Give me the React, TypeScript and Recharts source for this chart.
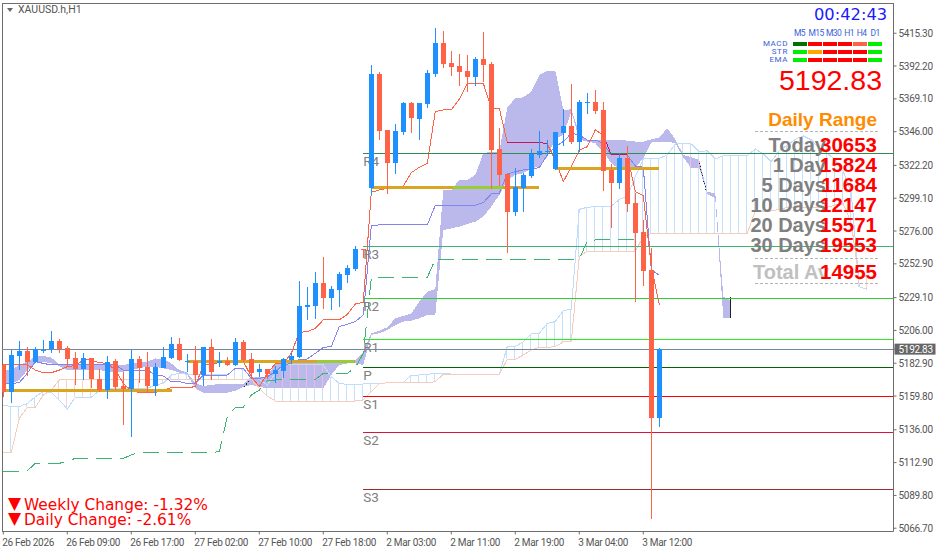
import { Area, Bar, Cell, ComposedChart, Line, ReferenceLine, XAxis, YAxis } from 'recharts'

// XAUUSD H1, one entry per candle
const opens = [5181.6, 5162.9, 5188.2, 5191.5, 5184.0, 5192.0, 5192.7, 5198.6, 5193.6, 5186.6, 5179.1, 5186.6, 5171.6, 5164.0, 5184.2, 5166.8, 5165.0, 5185.9, 5180.2, 5166.8, 5179.8, 5186.8, 5196.4, 5183.8, 5184.2, 5174.8, 5194.1, 5183.3, 5184.2, 5181.7, 5197.6, 5185.9, 5177.0, 5178.6, 5175.3, 5177.6, 5185.2, 5187.0, 5222.7, 5223.2, 5239.4, 5228.8, 5234.5, 5245.0, 5249.3, 5263.4, 5306.6, 5386.6, 5347.2, 5323.9, 5345.8, 5366.2, 5354.9, 5365.5, 5386.6, 5408.5, 5394.4, 5392.3, 5388.7, 5384.5, 5397.2, 5393.7, 5333.8, 5316.2, 5289.4, 5306.3, 5314.8, 5329.6, 5331.7, 5319.7, 5345.1, 5350.0, 5338.7, 5366.4, 5366.9, 5361.3, 5319.0, 5309.8, 5327.5, 5295.8, 5275.3, 5248.6, 5144.5]
const highs = [5181.6, 5192.2, 5198.6, 5194.1, 5194.1, 5199.3, 5205.6, 5200.0, 5195.0, 5190.8, 5189.9, 5186.6, 5178.6, 5188.0, 5185.6, 5176.9, 5192.7, 5188.0, 5190.6, 5182.8, 5194.1, 5201.1, 5200.7, 5189.4, 5195.0, 5194.1, 5200.0, 5190.6, 5187.0, 5200.4, 5199.3, 5189.9, 5182.1, 5178.6, 5180.9, 5186.3, 5190.3, 5240.8, 5236.6, 5247.2, 5257.7, 5237.3, 5247.2, 5252.1, 5265.5, 5263.4, 5393.0, 5388.0, 5347.2, 5351.4, 5367.2, 5367.2, 5366.2, 5389.5, 5419.0, 5416.9, 5402.8, 5400.7, 5400.0, 5398.6, 5416.2, 5395.1, 5348.6, 5316.2, 5320.4, 5316.9, 5333.8, 5346.5, 5340.1, 5346.0, 5362.0, 5379.6, 5368.3, 5373.2, 5375.4, 5366.9, 5323.2, 5330.3, 5335.9, 5302.8, 5283.8, 5264.1, 5193.6]
const lows = [5159.3, 5155.1, 5178.1, 5174.1, 5183.3, 5189.9, 5189.9, 5190.3, 5180.5, 5167.6, 5171.1, 5165.2, 5162.9, 5157.9, 5164.0, 5139.4, 5130.7, 5168.7, 5162.2, 5160.0, 5179.3, 5185.6, 5184.5, 5176.5, 5168.7, 5167.1, 5171.1, 5180.5, 5181.2, 5181.2, 5184.0, 5173.4, 5173.4, 5171.5, 5168.7, 5172.3, 5182.4, 5186.3, 5213.1, 5214.1, 5221.1, 5220.4, 5222.5, 5239.4, 5247.9, 5256.8, 5301.4, 5340.1, 5302.3, 5316.4, 5343.7, 5345.1, 5340.1, 5362.7, 5384.5, 5390.9, 5385.2, 5378.2, 5373.9, 5378.2, 5381.0, 5305.6, 5307.7, 5260.7, 5286.6, 5289.4, 5313.4, 5327.5, 5328.9, 5319.0, 5335.9, 5337.3, 5331.7, 5358.5, 5358.5, 5304.2, 5278.1, 5305.6, 5289.4, 5226.0, 5237.3, 5073.2, 5138.2]
const closes = [5162.9, 5188.7, 5191.5, 5184.0, 5192.7, 5192.2, 5198.6, 5192.7, 5185.9, 5179.1, 5186.6, 5171.6, 5164.0, 5183.8, 5165.9, 5165.0, 5185.9, 5179.8, 5166.8, 5180.2, 5187.3, 5196.4, 5185.2, 5184.2, 5174.6, 5194.1, 5176.7, 5184.2, 5181.9, 5197.6, 5184.9, 5176.0, 5178.6, 5175.3, 5178.1, 5185.9, 5188.0, 5223.2, 5223.9, 5239.4, 5229.1, 5235.2, 5245.8, 5250.0, 5263.4, 5262.4, 5386.6, 5346.7, 5323.9, 5346.5, 5366.2, 5355.6, 5366.2, 5387.3, 5408.5, 5393.7, 5391.6, 5388.0, 5384.5, 5397.2, 5393.0, 5333.1, 5315.5, 5289.4, 5307.0, 5315.5, 5330.3, 5332.4, 5332.4, 5346.0, 5350.0, 5338.7, 5366.9, 5366.9, 5360.6, 5318.3, 5309.8, 5327.5, 5295.1, 5274.6, 5247.9, 5144.5, 5192.83]

// ichimoku lines
const tenkan = [5181.7, 5181.7, 5181.7, 5181.7, 5178.1, 5176.2, 5176.2, 5178.1, 5180.5, 5181.2, 5185.2, 5185.2, 5183.3, 5182.8, 5178.1, 5168.7, 5163.6, 5162.2, 5162.2, 5162.2, 5164.0, 5165.7, 5165.7, 5165.7, 5166.4, 5181.7, 5182.4, 5183.3, 5184.0, 5184.2, 5184.2, 5173.4, 5166.4, 5175.8, 5182.4, 5182.8, 5189.9, 5204.7, 5205.1, 5207.5, 5213.4, 5213.4, 5213.4, 5217.3, 5224.6, 5225.8, 5303.3, 5304.9, 5306.1, 5307.3, 5307.7, 5317.1, 5320.9, 5323.7, 5360.1, 5361.3, 5361.3, 5368.8, 5380.1, 5380.1, 5380.1, 5362.4, 5362.4, 5338.5, 5338.5, 5338.5, 5338.5, 5338.5, 5337.3, 5326.0, 5310.8, 5321.4, 5333.1, 5335.4, 5347.2, 5343.7, 5329.6, 5329.6, 5329.6, 5303.7, 5300.9, 5250.9, 5224.2]
const kijun = [5168.7, 5168.7, 5169.2, 5175.8, 5184.0, 5182.8, 5181.7, 5181.7, 5181.7, 5181.7, 5181.7, 5181.7, 5181.7, 5181.7, 5181.7, 5178.1, 5178.1, 5178.1, 5178.1, 5174.6, 5173.9, 5169.9, 5169.9, 5168.7, 5168.7, 5174.6, 5174.6, 5174.6, 5174.6, 5179.3, 5179.3, 5172.3, 5172.3, 5173.4, 5177.0, 5181.7, 5182.8, 5185.4, 5185.9, 5189.9, 5194.1, 5194.6, 5208.7, 5210.3, 5212.2, 5216.9, 5279.8, 5280.3, 5280.3, 5280.3, 5280.3, 5280.3, 5280.3, 5280.3, 5294.1, 5294.1, 5294.1, 5294.1, 5294.1, 5294.1, 5296.0, 5302.1, 5302.6, 5316.2, 5317.8, 5319.0, 5319.7, 5320.7, 5329.6, 5335.4, 5339.0, 5344.8, 5343.7, 5340.1, 5340.1, 5337.8, 5329.6, 5329.6, 5329.6, 5321.8, 5320.9, 5248.6, 5245.0]
const chikou = [5106.7, 5106.7, 5106.7, 5107.2, 5112.4, 5112.4, 5112.4, 5112.4, 5114.0, 5115.9, 5115.9, 5115.9, 5115.9, 5115.9, 5115.9, 5115.9, 5118.3, 5120.1, 5120.1, 5120.1, 5120.1, 5120.1, 5120.1, 5120.1, 5120.1, 5120.1, 5120.1, 5120.6, 5145.3, 5151.8, 5151.8, 5160.5, 5164.0, 5170.6, 5171.1, 5171.1, 5171.1, 5171.6, 5171.6, 5171.6, 5175.8, 5175.8, 5175.8, 5175.8, 5179.8, 5189.9, 5242.7, 5243.4, 5243.4, 5243.4, 5243.4, 5243.4, 5243.4, 5243.4, 5256.1, 5256.1, 5256.1, 5256.1, 5256.1, 5256.1, 5256.1, 5256.1, 5256.1, 5256.1, 5256.1, 5256.1, 5256.1, 5256.1, 5256.1, 5256.1, 5256.1, 5256.1, 5256.1, 5269.2, 5269.7, 5269.7, 5269.7, 5269.7, 5269.7, 5269.7, 5269.7]
const spanA = [5153.5, 5152.3, 5152.3, 5154.6, 5159.3, 5162.9, 5162.2, 5157.0, 5150.7, 5158.9, 5158.9, 5158.9, 5163.6, 5165.2, 5165.2, 5165.2, 5165.2, 5165.2, 5165.2, 5167.6, 5168.7, 5174.6, 5175.8, 5175.1, 5175.1, 5175.1, 5175.1, 5175.1, 5174.6, 5179.3, 5178.6, 5173.4, 5171.6, 5167.6, 5175.8, 5181.7, 5181.7, 5181.7, 5181.7, 5181.7, 5181.7, 5173.4, 5168.7, 5168.0, 5168.0, 5168.3, 5168.3, 5168.3, 5169.2, 5169.2, 5169.2, 5174.6, 5174.6, 5175.1, 5175.8, 5175.8, 5175.3, 5175.3, 5175.3, 5175.1, 5175.1, 5175.1, 5175.1, 5194.6, 5194.6, 5198.1, 5203.5, 5204.0, 5211.0, 5212.2, 5219.9, 5220.9, 5291.3, 5292.7, 5293.2, 5293.6, 5293.6, 5298.3, 5300.2, 5314.3, 5326.8, 5326.8, 5327.2, 5329.6, 5337.3, 5337.8, 5337.3, 5331.9, 5332.6, 5326.8, 5328.9, 5329.3, 5329.3, 5329.3, 5333.8, 5330.3, 5324.9, 5332.6, 5336.6, 5340.6, 5343.0, 5340.2, 5334.3, 5330.8, 5326.1, 5317.9, 5302.6, 5236.8, 5235.0]
const spanB = [5120.1, 5120.1, 5144.1, 5151.8, 5151.8, 5160.5, 5164.0, 5171.1, 5171.6, 5171.6, 5171.6, 5171.6, 5171.6, 5171.6, 5171.6, 5171.6, 5171.6, 5171.6, 5171.6, 5171.6, 5171.6, 5171.6, 5171.6, 5171.6, 5171.6, 5171.6, 5171.6, 5171.6, 5171.6, 5171.6, 5171.6, 5171.6, 5165.2, 5159.8, 5156.3, 5156.3, 5156.3, 5156.3, 5156.3, 5156.3, 5156.3, 5156.3, 5156.3, 5156.3, 5156.3, 5157.0, 5162.9, 5168.3, 5169.2, 5169.2, 5169.2, 5169.2, 5169.2, 5169.2, 5169.9, 5175.1, 5175.1, 5175.1, 5175.1, 5175.1, 5175.1, 5175.1, 5175.1, 5185.7, 5185.7, 5188.7, 5192.2, 5194.1, 5194.1, 5194.6, 5197.9, 5198.1, 5258.0, 5261.9, 5261.9, 5261.9, 5261.9, 5261.9, 5261.9, 5261.9, 5272.0, 5274.4, 5274.4, 5274.4, 5274.4, 5274.4, 5274.4, 5274.4, 5274.4, 5274.4, 5274.4, 5274.4, 5274.4, 5274.4, 5290.1, 5290.1, 5290.1, 5291.3, 5292.7, 5292.7, 5292.7, 5292.7, 5292.7, 5292.7, 5294.4, 5295.1, 5281.4, 5241.5, 5245.1]

// filled higher timeframe cloud
const cloudTop = [5178.1, 5178.1, 5181.7, 5184.0, 5187.5, 5188.0, 5187.0, 5181.7, 5181.7, 5181.7, 5181.7, 5181.7, 5181.7, 5181.7, 5181.7, 5181.7, 5182.8, 5183.3, 5184.0, 5186.3, 5185.6, 5182.8, 5178.1, 5176.3, 5168.7, 5166.9, 5167.6, 5168.3, 5168.3, 5168.3, 5168.3, 5173.4, 5173.4, 5173.4, 5182.8, 5182.8, 5182.8, 5184.0, 5184.0, 5184.7, 5184.7, 5182.8, 5184.0, 5184.7, 5184.7, 5191.0, 5204.0, 5205.8, 5208.2, 5214.5, 5216.2, 5218.0, 5226.3, 5233.3, 5235.0, 5304.9, 5304.9, 5312.0, 5312.0, 5315.5, 5330.8, 5331.9, 5331.9, 5363.2, 5369.5, 5370.2, 5374.2, 5385.9, 5389.0, 5389.0, 5361.3, 5361.7, 5344.8, 5340.1, 5340.1, 5340.1, 5340.1, 5340.1, 5339.7, 5339.0, 5339.0, 5340.6, 5342.0, 5348.4, 5340.6, 5329.6, 5327.9, 5326.0, 5303.7, 5302.3, 5229.8, 5227.0]
const cloudBottom = [5168.7, 5168.7, 5171.1, 5178.1, 5184.0, 5184.0, 5182.8, 5180.9, 5178.1, 5178.1, 5178.1, 5178.1, 5178.1, 5177.0, 5177.0, 5177.0, 5178.6, 5179.3, 5180.5, 5180.5, 5179.3, 5178.1, 5176.3, 5174.6, 5165.2, 5162.2, 5161.7, 5161.7, 5162.2, 5163.6, 5166.4, 5167.6, 5166.4, 5165.2, 5165.2, 5165.2, 5165.2, 5165.2, 5165.2, 5165.2, 5165.2, 5174.6, 5181.7, 5182.8, 5182.8, 5181.7, 5202.8, 5204.0, 5206.3, 5209.8, 5212.2, 5212.9, 5214.5, 5216.9, 5216.9, 5276.7, 5277.9, 5279.1, 5281.0, 5282.6, 5286.1, 5293.2, 5301.4, 5312.0, 5315.5, 5316.7, 5320.2, 5321.4, 5328.4, 5341.3, 5343.7, 5360.3, 5340.6, 5339.0, 5337.8, 5331.9, 5323.7, 5319.5, 5319.0, 5320.9, 5327.2, 5338.3, 5339.0, 5339.0, 5337.8, 5327.9, 5320.2, 5320.2, 5302.1, 5299.0, 5214.5, 5214.5]

const xTickIndex = [0, 8, 16, 24, 32, 40, 48, 56, 64, 72, 80]
const xTickLabels = ['26 Feb 2026', '26 Feb 09:00', '26 Feb 17:00', '27 Feb 02:00', '27 Feb 10:00', '27 Feb 18:00', '2 Mar 03:00', '2 Mar 11:00', '2 Mar 19:00', '3 Mar 04:00', '3 Mar 12:00']
const lastPrice = 5192.83
const yTicks = [5415.3, 5392.2, 5369.1, 5346.0, 5322.2, 5299.1, 5276.0, 5252.9, 5229.1, 5206.0, 5182.9, 5159.8, 5136.0, 5112.9, 5089.8, 5066.7, lastPrice]

const pivots = [
  { name: 'R4', value: 5330.77, color: '#2e8b57' },
  { name: 'R3', value: 5265.26, color: '#3cb371' },
  { name: 'R2', value: 5228.63, color: '#32cd32' },
  { name: 'R1', value: 5199.75, color: '#22ee22' },
  { name: 'P', value: 5180.03, color: '#006400' },
  { name: 'S1', value: 5159.6, color: '#ff0000' },
  { name: 'S2', value: 5134.24, color: '#dc143c' },
  { name: 'S3', value: 5094.1, color: '#a52a2a' },
]
const PIVOT_START = 45

// thick range segments [from, to, price]
const goldSegments = [[0, 21.1, 5163.8], [23, 44, 5184.2], [46, 67, 5306.8], [69, 82, 5320.2]]
const limeSegments = [[39.2, 43.8, 5184.2], [56.2, 62.5, 5306.8], [77.6, 78.2, 5320.2]]

// small dark marks on the cloud edge [x1, price1, x2, price2]
const darkMarks = [[87, 5323.9, 87.9, 5303.5], [30.1, 5166.4, 30.8, 5171.1], [90.95, 5229.8, 90.95, 5214.5]]

// multi timeframe panel
const tfLabels = ['M5', 'M15', 'M30', 'H1', 'H4', 'D1']
const tfLabelCenters = [799.5, 816, 833.5, 849, 861.5, 875]
const tfRows = [
  { name: 'MACD', cells: ['#007000', '#ff0000', '#ff0000', '#ff0000', '#ff6347', '#00ee00'] },
  { name: 'STR', cells: ['#00ee00', '#ffa500', '#ff0000', '#ff0000', '#ff0000', '#00ee00'] },
  { name: 'EMA', cells: ['#00ee00', '#ff0000', '#ff0000', '#ff0000', '#ff0000', '#00ee00'] },
]
const rangeLabels = ['Today', '1 Day', '5 Days', '10 Days', '20 Days', '30 Days']
const rangeValues = ['30653', '15824', '11684', '12147', '15571', '19553']

const BLUE = '#1e90ff'
const RED = '#ff6347'
const X_MIN = -0.1625
const X_MAX = 111.275
const Y_MIN = 5064.4
const Y_MAX = 5436.6
const FONT = 'Roboto, sans-serif'
const BOLD = '"Liberation Sans", Arial, sans-serif'
const CRISP = { shapeRendering: 'crispEdges' } as const

function pinkRange(i: number) {
  // hatching looks pink where it crosses the lavender cloud
  if (i >= 35 && i <= 40) return [cloudBottom[i], spanA[i]]
  if (i === 86 || i === 87) return [cloudBottom[i], cloudTop[i]]
  return null
}

const table = spanA.map((a, i) => ({
  i,
  o: opens[i] ?? null,
  h: highs[i] ?? null,
  l: lows[i] ?? null,
  c: closes[i] ?? null,
  tenkan: tenkan[i] ?? null,
  // the tenkan goes darker where it runs over the cloud
  tenkanDark: (i >= 63 && i <= 68) || (i >= 75 && i <= 78) ? tenkan[i] : null,
  kijun: kijun[i] ?? null,
  chikou: chikou[i] ?? null,
  spanA: a,
  spanB: spanB[i],
  hatch: [Math.min(a, spanB[i]), Math.max(a, spanB[i])],
  pink: pinkRange(i),
  cloud: cloudTop[i] != null ? [cloudBottom[i], cloudTop[i]] : null,
}))

function Candle(props: any) {
  const { x, y, width, height, payload } = props
  if (payload.h == null) return null
  const top = Math.min(y, y + height)
  const full = Math.abs(height)
  const yOf = (v: number) => top + ((payload.h - v) / (payload.h - payload.l)) * full
  const color = payload.c >= payload.o ? BLUE : RED
  const bodyTop = Math.round(yOf(Math.max(payload.o, payload.c)))
  const bodyBottom = Math.round(yOf(Math.min(payload.o, payload.c)))
  const mid = Math.round(x + width / 2)
  return (
    <g shapeRendering="crispEdges">
      <rect x={mid - 0.5} y={top} width={1} height={full} fill={color} />
      <rect x={mid - 2.5} y={bodyTop} width={5} height={Math.max(1, bodyBottom - bodyTop)} fill={color} />
    </g>
  )
}

function DateTick({ x, y, payload }: any) {
  return (
    <text x={x - 1} y={y + 9} fontSize={10} letterSpacing={-0.3} fontFamily={FONT} fill="#555" textAnchor="start">
      {xTickLabels[xTickIndex.indexOf(payload.value)]}
    </text>
  )
}

function PriceTick({ x, y, payload }: any) {
  const last = payload.value === lastPrice
  return (
    <g>
      {last && <rect x={x - 4} y={y - 5.5} width={41} height={11} fill="#666" />}
      <text x={x} y={y + 3.5} fontSize={10} letterSpacing={-0.3} fontFamily={FONT} fill={last ? '#fff' : '#555'}>
        {payload.value.toFixed(2)}
      </text>
    </g>
  )
}

function PivotLabel({ viewBox, value }: any) {
  return (
    <text x={viewBox.x} y={viewBox.y + 13} fontSize={13.5} fontFamily={FONT} fill="#808080">
      {value}
    </text>
  )
}

function Overlay({ x, y, children, style }: any) {
  return <div style={{ position: 'absolute', left: x, top: y, whiteSpace: 'nowrap', lineHeight: 1, ...style }}>{children}</div>
}

export default function App() {
  return (
    <div style={{ position: 'absolute', left: 0, top: 0, width: 939, height: 552, background: '#fff', overflow: 'hidden' }}>
      <ComposedChart width={939} height={552} data={table} margin={{ top: 3, right: 0, bottom: 0, left: 2 }}>
        <XAxis
          dataKey="i"
          type="number"
          domain={[X_MIN, X_MAX]}
          ticks={xTickIndex}
          tick={<DateTick />}
          tickSize={3}
          height={20.5}
          interval={0}
          stroke="#6e6e6e"
          allowDataOverflow
        />
        <XAxis xAxisId="hatch" dataKey="i" type="number" domain={[X_MIN, X_MAX]} hide allowDataOverflow />
        <XAxis xAxisId="pink" dataKey="i" type="number" domain={[X_MIN, X_MAX]} hide allowDataOverflow />
        <YAxis
          orientation="right"
          type="number"
          domain={[Y_MIN, Y_MAX]}
          ticks={yTicks}
          tick={<PriceTick />}
          tickSize={3}
          width={45.5}
          interval={0}
          stroke="#6e6e6e"
          allowDataOverflow
        />

        <ReferenceLine x={X_MIN} stroke="#6e6e6e" style={CRISP} />
        <ReferenceLine y={Y_MAX} stroke="#6e6e6e" style={CRISP} />

        <Bar xAxisId="hatch" dataKey="hatch" barSize={1} isAnimationActive={false} zIndex={50} style={CRISP}>
          {table.map((d) => (
            <Cell key={d.i} fill={d.spanA >= d.spanB ? '#c6e2fb' : '#f8d4c6'} />
          ))}
        </Bar>
        <Area dataKey="cloud" stroke="none" fill="#bbb9ec" fillOpacity={1} connectNulls={false} isAnimationActive={false} dot={false} activeDot={false} style={CRISP} />
        <Bar xAxisId="pink" dataKey="pink" barSize={1} fill="#eebbdd" isAnimationActive={false} zIndex={150} style={CRISP} />

        <Line dataKey="spanA" stroke="#bfdcfa" strokeWidth={1} dot={false} activeDot={false} isAnimationActive={false} style={CRISP} />
        <Line dataKey="spanB" stroke="#f6cdbd" strokeWidth={1} dot={false} activeDot={false} isAnimationActive={false} style={CRISP} />
        <Line dataKey="chikou" stroke="#3cb371" strokeWidth={1} strokeDasharray="16 8" dot={false} activeDot={false} isAnimationActive={false} style={CRISP} />
        <Line dataKey="kijun" stroke="#8484ee" strokeWidth={1} dot={false} activeDot={false} isAnimationActive={false} style={CRISP} />
        <Line dataKey="tenkan" stroke={RED} strokeWidth={1} dot={false} activeDot={false} isAnimationActive={false} style={CRISP} />
        <Line dataKey="tenkanDark" stroke="#c2185b" strokeWidth={1} dot={false} activeDot={false} isAnimationActive={false} style={CRISP} />

        {goldSegments.map(([a, b, p]) => (
          <ReferenceLine key={a} segment={[{ x: a, y: p }, { x: b, y: p }]} stroke="#daa520" strokeWidth={3} style={CRISP} />
        ))}
        {limeSegments.map(([a, b, p]) => (
          <ReferenceLine key={a} segment={[{ x: a, y: p }, { x: b, y: p }]} stroke="#9acd32" strokeWidth={3} style={CRISP} />
        ))}
        {darkMarks.map(([x1, p1, x2, p2]) => (
          <ReferenceLine key={x1} segment={[{ x: x1, y: p1 }, { x: x2, y: p2 }]} stroke="#222" strokeDasharray={x1 === x2 ? undefined : '1 2'} style={CRISP} />
        ))}

        {pivots.map((p) => (
          <ReferenceLine
            key={p.name}
            segment={[{ x: PIVOT_START, y: p.value }, { x: X_MAX, y: p.value }]}
            stroke={p.color}
            style={CRISP}
            label={<PivotLabel value={p.name} />}
          />
        ))}
        <ReferenceLine y={lastPrice} stroke="#778899" style={CRISP} />

        <Bar dataKey={(d: any) => (d.h == null ? null : [d.l, d.h])} barSize={5} shape={<Candle />} isAnimationActive={false} zIndex={1000} />
      </ComposedChart>

      {/* title */}
      <div style={{ position: 'absolute', left: 7, top: 8, width: 0, height: 0, borderLeft: '3.5px solid transparent', borderRight: '3.5px solid transparent', borderTop: '4px solid #666' }} />
      <Overlay x={18} y={5} style={{ fontFamily: FONT, fontSize: 10.5, color: '#555' }}>XAUUSD.h,H1</Overlay>

      {/* clock and timeframe table */}
      <Overlay x={814} y={7} style={{ fontFamily: 'DejaVu Sans', fontSize: 16.3, color: '#1a1aff' }}>00:42:43</Overlay>
      {tfLabels.map((t, i) => (
        <Overlay key={t} x={tfLabelCenters[i]} y={29} style={{ fontFamily: FONT, fontSize: 8.5, letterSpacing: -0.6, color: '#3a62d8', transform: 'translateX(-50%)' }}>{t}</Overlay>
      ))}
      {tfRows.map((r, row) => (
        <div key={r.name}>
          <Overlay x={738} y={39.5 + row * 8} style={{ width: 50, textAlign: 'right', fontFamily: FONT, fontSize: 8, letterSpacing: 0.6, color: '#3a62d8' }}>{r.name}</Overlay>
          {r.cells.map((c, i) => (
            <div key={i} style={{ position: 'absolute', left: 793 + i * 15, top: 42 + row * 8, width: 14, height: 4, background: c }} />
          ))}
        </div>
      ))}

      <Overlay x={680} y={66} style={{ width: 202, textAlign: 'right', fontFamily: BOLD, fontSize: 28.5, color: '#ff0000' }}>5192.83</Overlay>
      <Overlay x={680} y={110} style={{ width: 197, textAlign: 'right', fontFamily: BOLD, fontSize: 19, fontWeight: 700, color: '#ff8c00' }}>Daily Range</Overlay>

      {[131, 258, 283].map((y) => (
        <div key={y} style={{ position: 'absolute', left: 755, top: y, width: 123, borderTop: '1px dashed #b4b4b4' }} />
      ))}
      {rangeLabels.map((t, i) => (
        <Overlay key={t} x={681} y={134.5 + i * 20.1} style={{ width: 145, textAlign: 'right', fontFamily: BOLD, fontSize: 20, fontWeight: 700, color: '#808080' }}>{t}</Overlay>
      ))}
      <Overlay x={753} y={262} style={{ fontFamily: BOLD, fontSize: 20, fontWeight: 700, color: '#c0c0c0' }}>Total Av</Overlay>
      {rangeValues.map((v, i) => (
        <Overlay key={i} x={780} y={134.5 + i * 20.1} style={{ width: 97, textAlign: 'right', fontFamily: BOLD, fontSize: 20.5, fontWeight: 700, color: '#ff0000' }}>{v}</Overlay>
      ))}
      <Overlay x={780} y={262} style={{ width: 97, textAlign: 'right', fontFamily: BOLD, fontSize: 20.5, fontWeight: 700, color: '#ff0000' }}>14955</Overlay>

      {/* change readout */}
      <Overlay x={8} y={495} style={{ fontFamily: 'DejaVu Sans', fontSize: 17, color: '#ff0000' }}>▼</Overlay>
      <Overlay x={24} y={498} style={{ fontFamily: 'DejaVu Sans', fontSize: 15.4, color: '#ff0000' }}>Weekly Change: -1.32%</Overlay>
      <Overlay x={8} y={510} style={{ fontFamily: 'DejaVu Sans', fontSize: 17, color: '#ff0000' }}>▼</Overlay>
      <Overlay x={24} y={512.5} style={{ fontFamily: 'DejaVu Sans', fontSize: 15.4, color: '#ff0000' }}>Daily Change: -2.61%</Overlay>
    </div>
  )
}
